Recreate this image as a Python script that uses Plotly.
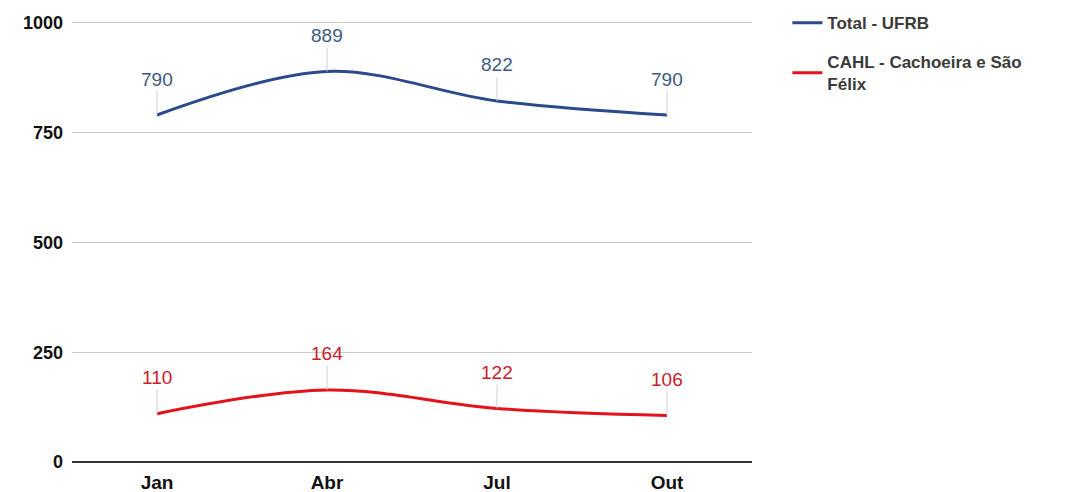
import plotly.graph_objects as go

months = ["Jan", "Abr", "Jul", "Out"]
total_ufrb = [790, 889, 822, 790]
cahl = [110, 164, 122, 106]
y_ticks = [0, 250, 500, 750, 1000]

blue = "#2b4a8b"
red = "#e3121b"
blue_lbl = "#3d5a80"
red_lbl = "#c8202d"

fig = go.Figure()
fig.add_trace(go.Scatter(x=months, y=total_ufrb, mode="lines", name="<b>Total - UFRB</b>",
                         legendgroup="a",
                         line=dict(color=blue, width=3, shape="spline", smoothing=1.0)))
fig.add_trace(go.Scatter(x=months, y=cahl, mode="lines", name="<b>CAHL - Cachoeira e São<br>Félix</b>",
                         legendgroup="b",
                         line=dict(color=red, width=3, shape="spline", smoothing=1.0)))

annotations = []
for series, col in ((total_ufrb, blue_lbl), (cahl, red_lbl)):
    for m, v in zip(months, series):
        annotations.append(dict(x=m, y=v, xref="x", yref="y", text=str(v), showarrow=True,
                                arrowhead=0, arrowwidth=1, arrowcolor="#d0d0d0",
                                ax=0, ay=-36, font=dict(family="Liberation Sans, Arial", size=19, color=col)))

fig.update_layout(
    width=1057, height=484,
    margin=dict(l=64, r=313, t=13, b=30, autoexpand=False),
    plot_bgcolor="white", paper_bgcolor="white",
    annotations=annotations,
    showlegend=True,
    legend=dict(x=1.052, y=1.036, xanchor="left", yanchor="top", traceorder="grouped",
                font=dict(family="Liberation Sans, Arial", size=17, color="#3a3a3a"),
                itemwidth=30, tracegroupgap=14),
    xaxis=dict(showgrid=False, range=[-0.5, 3.5], automargin=False,
               tickfont=dict(family="Liberation Sans, Arial", size=19, color="#111", weight="bold"),
               ticks="", showline=False, ticklabelstandoff=7),
    yaxis=dict(range=[0, 1004], tickvals=y_ticks, showgrid=True, gridcolor="#cccccc", gridwidth=1,
               zeroline=True, zerolinecolor="#333333", zerolinewidth=2, automargin=False,
               tickfont=dict(family="Liberation Sans, Arial", size=18, color="#111", weight="bold"),
               ticks="", ticklabelstandoff=8),
)

fig.write_html("out.html")
